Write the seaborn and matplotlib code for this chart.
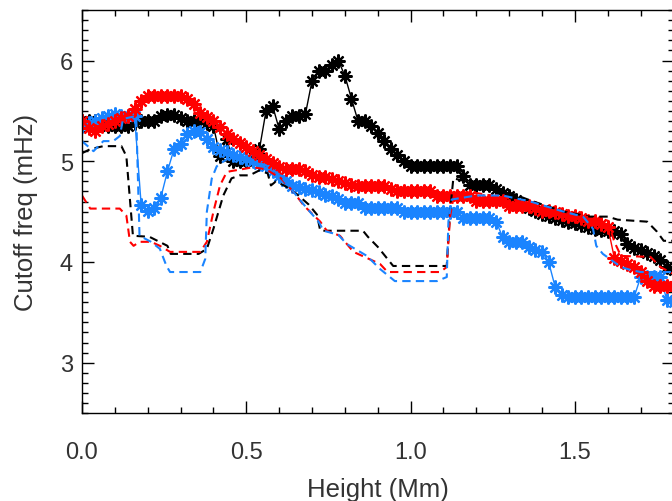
import matplotlib
matplotlib.use('Agg')
import matplotlib.pyplot as plt
import numpy as np
import pandas as pd
import seaborn as sns

# height grid (Mm) of the solid curves
height = np.round(np.arange(91) * 0.02, 2)

black_sym = [5.40, 5.40, 5.40, 5.37, 5.35, 5.35, 5.35, 5.35, 5.38, 5.40,
             5.40, 5.40, 5.45, 5.46, 5.46, 5.43, 5.40, 5.40, 5.40, 5.38,
             5.35, 5.05, 5.22, 5.00, 5.00, 5.00, 5.05, 5.12, 5.50, 5.55,
             5.32, 5.40, 5.45, 5.45, 5.47, 5.80, 5.90, 5.90, 5.96, 6.00,
             5.85, 5.62, 5.40, 5.40, 5.35, 5.28, 5.20, 5.12, 5.06, 5.00,
             4.95, 4.95, 4.95, 4.95, 4.95, 4.95, 4.95, 4.95, 4.85, 4.76,
             4.76, 4.76, 4.76, 4.72, 4.68, 4.65, 4.62, 4.58, 4.54, 4.51,
             4.48, 4.46, 4.44, 4.42, 4.40, 4.39, 4.37, 4.35, 4.33, 4.32,
             4.31, 4.31, 4.28, 4.18, 4.14, 4.12, 4.09, 4.06, 4.02, 3.95,
             3.92]
red_sym = [5.40, 5.33, 5.30, 5.35, 5.37, 5.40, 5.43, 5.45, 5.52, 5.60,
           5.65, 5.65, 5.65, 5.65, 5.65, 5.65, 5.62, 5.57, 5.48, 5.44,
           5.40, 5.34, 5.27, 5.22, 5.18, 5.14, 5.10, 5.06, 5.02, 4.98,
           4.94, 4.92, 4.92, 4.92, 4.90, 4.86, 4.84, 4.84, 4.82, 4.80,
           4.78, 4.76, 4.75, 4.75, 4.75, 4.75, 4.75, 4.72, 4.70, 4.70,
           4.70, 4.70, 4.70, 4.70, 4.65, 4.65, 4.65, 4.65, 4.65, 4.65,
           4.61, 4.61, 4.61, 4.61, 4.61, 4.56, 4.56, 4.56, 4.56, 4.54,
           4.51, 4.51, 4.50, 4.48, 4.46, 4.46, 4.44, 4.41, 4.41, 4.38,
           4.35, 4.04, 4.01, 3.98, 3.95, 3.90, 3.81, 3.76, 3.76, 3.76,
           3.76]
blue_sym = [5.35, 5.38, 5.40, 5.43, 5.45, 5.47, 5.45, 5.45, 5.45, 4.57,
            4.51, 4.54, 4.64, 4.90, 5.12, 5.17, 5.27, 5.30, 5.29, 5.22,
            5.14, 5.11, 5.09, 5.06, 5.04, 5.02, 5.00, 4.97, 4.95, 4.90,
            4.85, 4.80, 4.75, 4.74, 4.72, 4.71, 4.69, 4.66, 4.65, 4.63,
            4.59, 4.59, 4.59, 4.54, 4.54, 4.54, 4.54, 4.54, 4.54, 4.50,
            4.50, 4.50, 4.50, 4.50, 4.50, 4.50, 4.50, 4.50, 4.44, 4.44,
            4.44, 4.44, 4.44, 4.40, 4.25, 4.20, 4.20, 4.20, 4.15, 4.12,
            4.10, 4.00, 3.75, 3.67, 3.65, 3.65, 3.65, 3.65, 3.65, 3.65,
            3.65, 3.65, 3.65, 3.65, 3.65, 3.85, 3.85, 3.85, 3.85, 3.62,
            3.60]

# dashed curves
black_dash_h = [0.0, 0.025, 0.065, 0.12, 0.135, 0.155, 0.205, 0.26, 0.27, 0.355,
                0.38, 0.40, 0.43, 0.455, 0.48, 0.51, 0.54, 0.565, 0.575, 0.59,
                0.62, 0.655, 0.69, 0.715, 0.725, 0.855, 0.87, 0.90, 0.947, 1.11,
                1.12, 1.13, 1.17, 1.25, 1.30, 1.365, 1.465, 1.545, 1.60, 1.63,
                1.72, 1.75, 1.77, 1.80]
black_dash = [5.08, 5.12, 5.15, 5.15, 5.05, 4.26, 4.25, 4.16, 4.08, 4.08,
              4.13, 4.33, 4.66, 4.83, 4.86, 4.86, 4.91, 4.88, 4.76, 4.80,
              4.75, 4.67, 4.57, 4.47, 4.31, 4.31, 4.25, 4.15, 3.96, 3.96,
              4.50, 4.83, 4.80, 4.72, 4.69, 4.61, 4.50, 4.45, 4.45, 4.42,
              4.40, 4.30, 4.21, 4.21]
red_dash_h = [0.0, 0.025, 0.115, 0.135, 0.146, 0.157, 0.175, 0.21, 0.237, 0.268,
              0.36, 0.38, 0.40, 0.42, 0.44, 0.45, 0.52, 0.56, 0.59, 0.60,
              0.645, 0.675, 0.725, 0.745, 0.785, 0.826, 0.907, 0.93, 1.09, 1.11,
              1.12, 1.13, 1.19, 1.30, 1.37, 1.45, 1.60, 1.62, 1.64, 1.73,
              1.76, 1.80]
red_dash = [4.66, 4.53, 4.53, 4.46, 4.20, 4.16, 4.20, 4.20, 4.16, 4.10,
            4.10, 4.20, 4.50, 4.76, 4.89, 4.90, 4.94, 4.92, 4.86, 4.85,
            4.69, 4.56, 4.40, 4.31, 4.26, 4.10, 3.98, 3.90, 3.90, 3.95,
            4.45, 4.63, 4.69, 4.63, 4.57, 4.50, 4.41, 4.20, 4.06, 4.05,
            3.95, 3.88]
blue_dash_h = [0.0, 0.035, 0.065, 0.095, 0.115, 0.125, 0.165, 0.175, 0.21, 0.237,
               0.257, 0.268, 0.36, 0.375, 0.38, 0.395, 0.41, 0.44, 0.50, 0.56,
               0.60, 0.645, 0.685, 0.72, 0.735, 0.78, 0.805, 0.867, 0.907, 0.952,
               1.08, 1.11, 1.115, 1.125, 1.20, 1.28, 1.365, 1.465, 1.525, 1.555,
               1.565, 1.585, 1.64, 1.67, 1.70, 1.80]
blue_dash = [5.20, 5.10, 5.20, 5.20, 5.25, 5.42, 5.45, 4.26, 4.20, 4.13,
             3.96, 3.90, 3.90, 4.03, 4.50, 4.83, 4.95, 5.02, 5.02, 4.96,
             4.87, 4.69, 4.53, 4.40, 4.31, 4.27, 4.18, 4.06, 3.93, 3.81,
             3.81, 3.85, 4.40, 4.62, 4.66, 4.66, 4.60, 4.50, 4.45, 4.33,
             4.16, 4.08, 3.95, 3.92, 3.90, 3.90]

BLUE = '#1a84ff'

sns.set_style('ticks')
plt.rcParams['font.family'] = ['Liberation Sans', 'DejaVu Sans']

fig = plt.figure(figsize=(6.72, 5.02), dpi=100)
ax = fig.add_axes([82 / 672, 88 / 502, 591.5 / 672, 402.8 / 502])

star = (8, 2, 0)
for vals, col in [(black_sym, 'black'), (blue_sym, BLUE), (red_sym, 'red')]:
    sns.lineplot(x=height, y=vals, ax=ax, color=col, lw=1.0, marker=star,
                 markersize=10, markeredgewidth=1.6, markeredgecolor=col,
                 estimator=None, sort=False)

for hh, vals, col in [(black_dash_h, black_dash, 'black'),
                      (red_dash_h, red_dash, 'red'),
                      (blue_dash_h, blue_dash, BLUE)]:
    sns.lineplot(x=hh, y=vals, ax=ax, color=col, lw=1.5,
                 linestyle=(0, (4.0, 2.5)), estimator=None, sort=False)

ax.set_xlim(0, 1.8)
ax.set_ylim(2.5, 6.5)
ax.set_xticks([0.0, 0.5, 1.0, 1.5])
ax.set_xticklabels(['0.0', '0.5', '1.0', '1.5'])
ax.set_yticks([3, 4, 5, 6])
ax.set_xticks(np.arange(0, 1.81, 0.1), minor=True)
ax.set_yticks(np.arange(2.5, 6.51, 0.1), minor=True)
ax.tick_params(which='both', direction='in', top=True, right=True,
               width=1.0, color='black')
ax.tick_params(which='major', length=8.6)
ax.tick_params(which='minor', length=4.3)
ax.tick_params(axis='x', which='major', pad=20, labelsize=17, labelcolor='#333333')
ax.tick_params(axis='y', which='major', pad=6.5, labelsize=17, labelcolor='#333333')
for s in ax.spines.values():
    s.set_linewidth(1.0)
    s.set_color('black')

ax.set_xlabel('Height (Mm)', fontsize=18.5, color='#333333', labelpad=10)
ax.set_ylabel('Cutoff freq (mHz)', fontsize=18.5, color='#333333', labelpad=16)

fig.savefig('out.png', dpi=100)
